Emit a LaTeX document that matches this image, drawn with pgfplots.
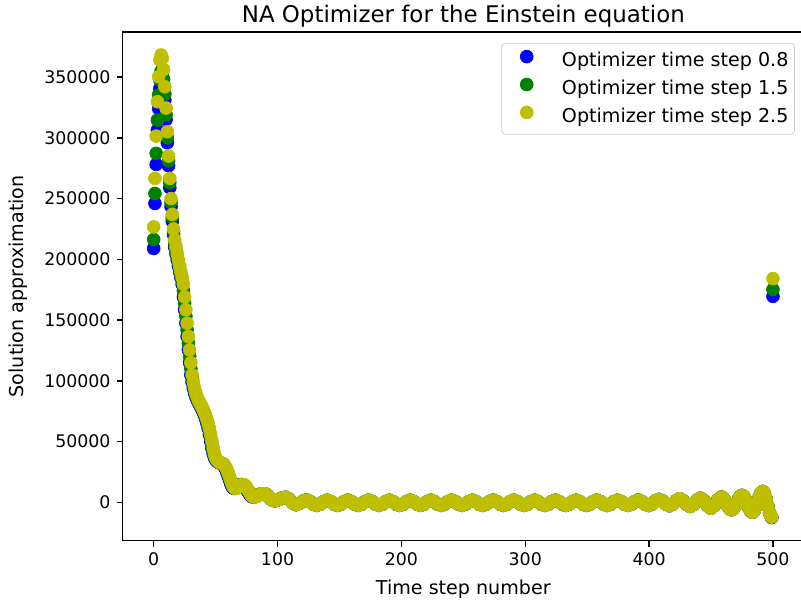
\documentclass[border=0pt]{standalone}
\usepackage{pgfplots}
\pgfplotsset{compat=1.18}
\usepackage{pgfplotstable}
\usepackage{fontspec}
\setmainfont{DejaVu Sans}
\definecolor{mblue}{rgb}{0,0,1}
\definecolor{mgreen}{rgb}{0,0.5,0}
\definecolor{myellow}{rgb}{0.75,0.75,0}

% early part: x, blue (0.8), green (1.5), yellow (2.5)
\pgfplotstableread{
x b g y
0 209000 216300 226700
1 246000 254200 266600
2 278100 287200 301400
3 306300 314600 329700
4 324200 335200 350200
5 340700 347500 364000
6 350000 355000 368100
7 351000 354000 365500
8 344000 348000 356300
9 331000 336000 342000
10 315000 319000 324500
11 296000 300000 305000
12 277000 281000 285000
13 259000 263000 266600
14 243500 247000 250000
15 231500 234500 237000
16 220500 223000 225000
17 210000 213000 216000
18 204500 207200 210000
19 199500 202000 204500
20 194500 197000 199500
21 189500 192000 194500
22 185000 187200 189500
23 179500 182200 185000
24 169000 174200 179500
25 158500 163700 169000
26 147500 153000 158500
27 136500 142000 147500
28 125500 131000 136500
29 115000 120200 125500
30 105000 110000 115000
31 99000 102000 105000
32 94000 96500 99000
33 90000 92000 94000
34 87000 88500 90000
35 84500 85700 87000
36 82500 83500 84500
37 80500 81500 82500
38 78500 79500 80500
39 76500 77500 78500
40 74000 75200 76500
41 71500 72700 74000
42 68500 70000 71500
43 65000 66700 68500
44 61000 63000 65000
45 56000 58500 61000
46 50500 53200 56000
47 44500 47500 50500
48 40000 42200 44500
49 37000 38500 40000
50 35000 36000 37000
51 33800 34400 35000
52 33000 33400 33800
53 32600 32800 33000
54 32300 32400 32600
55 32000 32100 32300
56 31000 31500 32000
57 29500 30200 31000
58 27500 28500 29500
59 25000 26200 27500
60 22000 23500 25000
61 19000 20500 22000
62 16000 17500 19000
63 13500 14700 16000
64 12000 12700 13500
65 11500 11700 12000
66 11800 11600 11500
67 12500 12100 11800
68 13500 13000 12500
69 14200 13800 13500
70 14600 14400 14200
71 14700 14600 14600
72 14500 14600 14700
73 13800 14100 14500
74 12500 13100 13800
75 10800 11600 12500
76 9000 9900 10800
77 7200 8100 9000
78 5800 6500 7200
79 4900 5300 5800
80 4500 4700 4900
81 4600 4500 4500
82 5000 4800 4600
83 5600 5300 5000
84 6200 5900 5600
85 6200 6200 6200
86 6700 6700 6700
87 7000 7000 7000
88 7100 7100 7100
89 7100 7100 7100
90 7000 7000 7000
91 6500 6500 6500
92 5600 5600 5600
93 4500 4500 4500
94 3400 3400 3400
95 2500 2500 2500
96 1900 1900 1900
97 1500 1500 1500
98 1500 1500 1500
99 1700 1700 1700
100 2050 2050 2050
101 2450 2450 2450
102 2850 2850 2850
}\headtab

% oscillating part, common to the three series
\pgfplotstableread{
x y
103.7 3600
106.5 4200
109.3 2700
112.1 -300
114.9 -1800
117.7 -850
120.5 1050
123.25 2000
126.0 900
128.8 -1300
131.6 -2400
134.4 -1350
137.2 750
140.0 1800
142.8 750
145.6 -1350
148.4 -2400
151.2 -1350
154.0 750
156.75 1800
159.5 750
162.3 -1350
165.1 -2400
167.9 -1350
170.7 750
173.5 1800
176.3 750
179.1 -1350
181.9 -2400
184.7 -1350
187.5 750
190.25 1800
193.0 750
195.8 -1350
198.6 -2400
201.4 -1350
204.2 750
207.0 1800
209.8 750
212.6 -1350
215.4 -2400
218.2 -1350
221.0 750
223.75 1800
226.5 750
229.3 -1350
232.1 -2400
234.9 -1350
237.7 750
240.5 1800
243.3 750
246.1 -1350
248.9 -2400
251.7 -1350
254.5 750
257.25 1800
260.0 750
262.8 -1350
265.6 -2400
268.4 -1350
271.2 750
274.0 1800
276.8 750
279.6 -1350
282.4 -2400
285.2 -1350
288.0 750
290.75 1800
293.5 750
296.3 -1350
299.1 -2400
301.9 -1350
304.7 750
307.5 1800
310.3 750
313.1 -1350
315.9 -2400
318.7 -1350
321.5 750
324.25 1800
327.0 750
329.8 -1350
332.6 -2400
335.4 -1350
338.2 750
341.0 1800
343.8 750
346.6 -1350
349.4 -2400
352.2 -1350
355.0 750
357.75 1800
360.5 750
363.3 -1350
366.1 -2400
368.9 -1350
371.7 750
374.5 1800
377.3 750
380.1 -1350
382.9 -2400
385.7 -1350
388.5 750
391.25 1900
394.0 800
396.8 -1400
399.6 -2500
402.4 -1250
405.2 1250
408.0 2500
410.8 1200
413.6 -1400
416.4 -2700
419.2 -1275
422.0 1575
424.75 3000
427.5 1425
430.3 -1725
433.1 -3300
435.9 -1600
438.7 1800
441.5 3500
444.3 1450
447.1 -2650
449.9 -4700
452.7 -2425
455.5 2125
458.25 4400
459.6 3700
461.0 1800
462.4 -800
463.8 -3400
465.2 -5300
466.6 -6000
468.0 -5200
469.4 -3050
470.8 -100
472.2 2850
473.6 5000
475.0 5800
476.4 4900
477.8 2350
479.2 -1100
480.6 -4550
482.0 -7100
483.4 -8000
484.8 -6860
486.2 -3750
487.6 500
489.0 4750
490.4 7860
491.75 9000
493.1 7400
494.5 2800
495.9 -3300
497.3 -8700
498.2 -11000
}\tailtab

% last two steps: x, blue, green, yellow
\pgfplotstableread{
x b g y
499 -12400 -12200 -12000
500 169600 175200 184200
}\endtab

\pgfplotsset{
  dots/.style={only marks, mark=*, mark size=3.7pt, color=#1,
    legend image code/.code={\path (-10.75pt,0pt) (3.9pt,0pt);
      \draw[##1] plot coordinates {(0pt,3.1pt)};}},
}

\begin{document}
\begin{tikzpicture}
\begin{axis}[
  name=ax, at={(0,0)}, anchor=south west,
  scale only axis, width=392.4pt, height=293pt,
  xmin=-25, xmax=525, ymin=-31400, ymax=387100,
  xtick={0,100,...,500}, ytick={0,50000,...,350000},
  scaled y ticks=false, scaled x ticks=false,
  yticklabel style={/pgf/number format/fixed,/pgf/number format/1000 sep={}},
  /pgf/number format/assume math mode=true,
  tick label style={font=\fontsize{10}{12}\selectfont},
  tick align=outside, tick pos=left,
  major tick length=3.5pt,
  every tick/.style={black, line width=0.8pt},
  axis line style={line width=0.8pt},
  title={NA Optimizer for the Einstein equation},
  title style={font=\fontsize{13.2}{15}\selectfont, at={(axis description cs:0.5,1)}, anchor=base, yshift=-0.5pt},
  xlabel={Time step number},
  xlabel style={font=\fontsize{11}{13}\selectfont, at={(axis description cs:0.5,-0.1065)}, anchor=base},
  ylabel={Solution approximation},
  ylabel style={font=\fontsize{11}{13}\selectfont, at={(axis description cs:-0.1453,0.5)}, anchor=base},
  legend cell align=left,
  legend style={at={(axis description cs:1,1)}, anchor=north east, xshift=-5.2pt, yshift=-6.3pt,
    draw=black!20, rounded corners=2pt, inner xsep=3.5pt, inner ysep=4pt,
    font=\fontsize{11}{13}\selectfont, row sep=3.8pt, column sep=16.2pt,
    nodes={inner sep=0pt, text depth=2.6pt}},
]
\addplot[dots=mblue] table[x=x, y=b] {\headtab};
\addlegendentry{Optimizer time step 0.8}
\addplot[dots=mblue, forget plot] table[x=x, y=y] {\tailtab};
\addplot[dots=mblue, forget plot] table[x=x, y=b] {\endtab};
\addplot[dots=mgreen] table[x=x, y=g] {\headtab};
\addlegendentry{Optimizer time step 1.5}
\addplot[dots=mgreen, forget plot] table[x=x, y=y] {\tailtab};
\addplot[dots=mgreen, forget plot] table[x=x, y=g] {\endtab};
\addplot[dots=myellow] table[x=x, y=y] {\headtab};
\addlegendentry{Optimizer time step 2.5}
\addplot[dots=myellow, forget plot] table[x=x, y=y] {\tailtab};
\addplot[dots=myellow, forget plot] table[x=x, y=y] {\endtab};
\end{axis}
\pgfresetboundingbox
\useasboundingbox (-70.7pt,-37.6pt) rectangle (390.7pt,311.4pt);
\end{tikzpicture}
\end{document}
